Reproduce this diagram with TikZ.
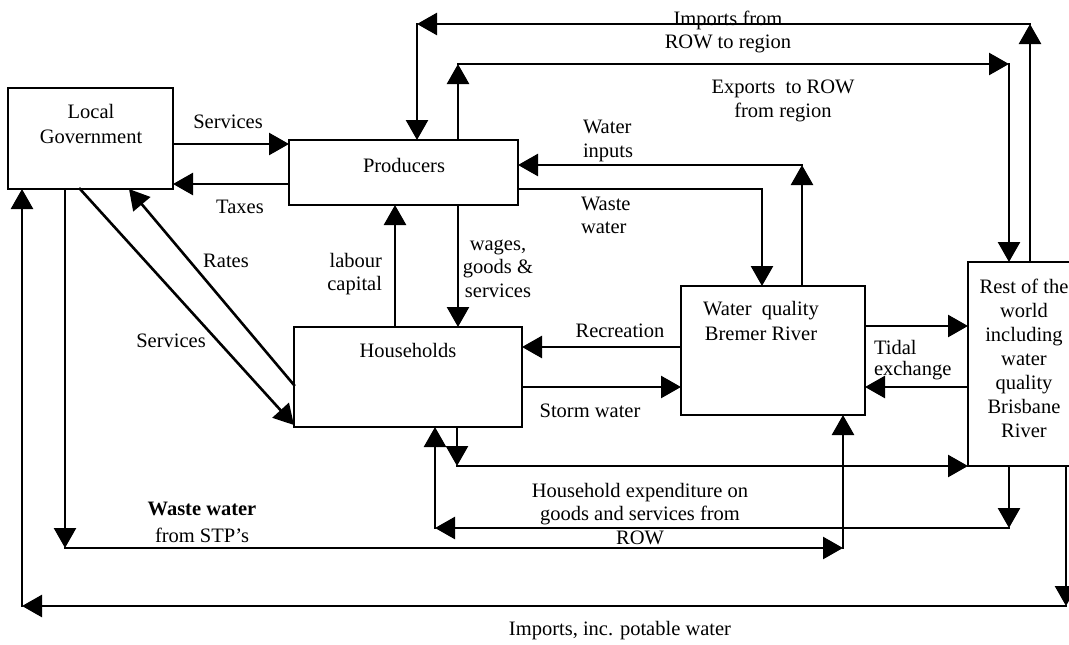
\documentclass[tikz,border=0pt]{standalone}
\usepackage{fontspec}
\setmainfont{Liberation Serif}
\usetikzlibrary{arrows.meta}
\begin{document}
\begin{tikzpicture}[x=1pt,y=-1pt,
  box/.style={draw, line width=2.6pt, inner sep=0pt, outer sep=0pt, rectangle},
  txt/.style={font=\fontsize{20.5pt}{23.5pt}\selectfont, inner sep=0pt, outer sep=0pt, align=center, anchor=base},
  arr/.style={draw, line width=2.6pt, line cap=rect, -{Triangle[length=20pt,width=22pt]}}]
\useasboundingbox (0,0) rectangle (1069,645);
\clip (0,0) rectangle (1069,645);
% boxes
\node[box, minimum width=165pt, minimum height=101pt] (lg) at (90.5,138.5) {};
\node[box, minimum width=229pt, minimum height=65pt] (prod) at (403.5,172.5) {};
\node[box, minimum width=228pt, minimum height=100pt] (hh) at (408,377) {};
\node[box, minimum width=184pt, minimum height=129pt] (brem) at (773,350.5) {};
\node[box, minimum width=107pt, minimum height=204pt] (row) at (1021.5,364) {};
% box texts (base anchor = baseline of last line)
\node[txt, font=\fontsize{20.5pt}{25pt}\selectfont] (tlg) at (91,143) {Local\\Government};
\node[txt] (tprod) at (404,172) {Producers};
\node[txt] (thh) at (408,357) {Households};
\node[txt, font=\fontsize{20.5pt}{25pt}\selectfont] (tbrem) at (761,340) {Water\ \ quality\\Bremer River};
\node[txt, font=\fontsize{20.5pt}{24pt}\selectfont] (trow) at (1024,437) {Rest of the\\world\\including\\water\\quality\\Brisbane\\River};
% corner and level coordinates
\coordinate (impR) at (1030,24);
\coordinate (impL) at (417,24);
\coordinate (expL) at (458,64);
\coordinate (expR) at (1009,64);
\coordinate (winT) at (802,165);
\coordinate (wwC) at (762,189);
\coordinate (hrT) at (457,466);
\coordinate (exR) at (1009,528);
\coordinate (exL) at (435,528);
\coordinate (stpL) at (65,548);
\coordinate (stpR) at (843,548);
\coordinate (impBR) at (1066,606);
\coordinate (impBL) at (22,606);
\coordinate (lvSvc) at (0,144);
\coordinate (lvTax) at (0,184);
\coordinate (lvLab) at (395,0);
\coordinate (lvRec) at (0,347);
\coordinate (lvSto) at (0,387);
\coordinate (lvTid) at (0,326);
\coordinate (rateS) at (0,385);
\coordinate (rateE) at (129,0);
\coordinate (svcS) at (80,0);
\coordinate (svcE) at (0,425);
% connectors
\draw[arr] (lg.east |- lvSvc) -- (prod.west |- lvSvc);
\draw[arr] (prod.west |- lvTax) -- (lg.east |- lvTax);
\draw[arr] (row.north -| impR) -- (impR);
\draw[arr] (impR) -- (impL);
\draw[arr] (impL) -- (prod.north -| impL);
\draw[arr] (prod.north -| expL) -- (expL);
\draw[arr] (expL) -- (expR);
\draw[arr] (expR) -- (row.north -| expR);
\draw[arr] (brem.north -| winT) -- (winT);
\draw[arr] (winT) -- (prod.east |- winT);
\draw[arr] (prod.east |- wwC) -- (wwC) -- (brem.north -| wwC);
\draw[arr] (hh.north -| lvLab) -- (prod.south -| lvLab);
\draw[arr] (prod.south -| expL) -- (hh.north -| expL);
\draw[arr] (hh.west |- rateS) -- (lg.south -| rateE);
\draw[arr] (lg.south -| svcS) -- (hh.west |- svcE);
\draw[arr] (brem.west |- lvRec) -- (hh.east |- lvRec);
\draw[arr] (hh.east |- lvSto) -- (brem.west |- lvSto);
\draw[arr] (brem.east |- lvTid) -- (row.west |- lvTid);
\draw[arr] (row.west |- lvSto) -- (brem.east |- lvSto);
\draw[arr] (hh.south -| hrT) -- (hrT);
\draw[arr] (hrT) -- (row.west |- hrT);
\draw[arr] (row.south -| exR) -- (exR);
\draw[arr] (exR) -- (exL);
\draw[arr] (exL) -- (hh.south -| exL);
\draw[arr] (lg.south -| stpL) -- (stpL);
\draw[arr] (stpL) -- (stpR);
\draw[arr] (stpR) -- (brem.south -| stpR);
\draw[arr] (row.south -| impBR) -- (impBR);
\draw[arr] (impBR) -- (impBL);
\draw[arr] (impBL) -- (lg.south -| impBL);
% labels (base anchor = baseline of last line)
\node[txt] (lSvc) at (228,128) {Services};
\node[txt] (lTax) at (240,213) {Taxes};
\node[txt, font=\fontsize{20.5pt}{23pt}\selectfont] (lImp) at (728,48) {Imports from\\ROW to region};
\node[txt, font=\fontsize{20.5pt}{24pt}\selectfont] (lExp) at (783,117) {Exports\ \ to ROW\\from region};
\node[txt, align=left, anchor=base west, font=\fontsize{20.5pt}{24pt}\selectfont] (lWin) at (583,157) {Water\\inputs};
\node[txt, align=left, anchor=base west, font=\fontsize{20.5pt}{23pt}\selectfont] (lWw) at (581,233) {Waste\\water};
\node[txt, align=right, anchor=base east, font=\fontsize{20.5pt}{23pt}\selectfont] (lLab) at (382,290) {labour\\capital};
\node[txt] (lWag) at (498,297) {wages,\\goods \&\\services};
\node[txt] (lRat) at (226,267) {Rates};
\node[txt] (lSvc2) at (171,347) {Services};
\node[txt] (lRec) at (620,337) {Recreation};
\node[txt] (lSto) at (590,417) {Storm water};
\node[txt, align=left, anchor=base west, font=\fontsize{20.5pt}{21pt}\selectfont] (lTid) at (874,375) {Tidal\\exchange};
\node[txt] (lExpd) at (640,544) {Household expenditure on\\goods and services from\\ROW};
\node[txt, font=\fontsize{20.5pt}{27pt}\selectfont] (lStp) at (202,542) {\textbf{Waste water}\\from STP’s};
\node[txt] (lPot) at (620,635) {Imports, inc. potable water};
\end{tikzpicture}
\end{document}
